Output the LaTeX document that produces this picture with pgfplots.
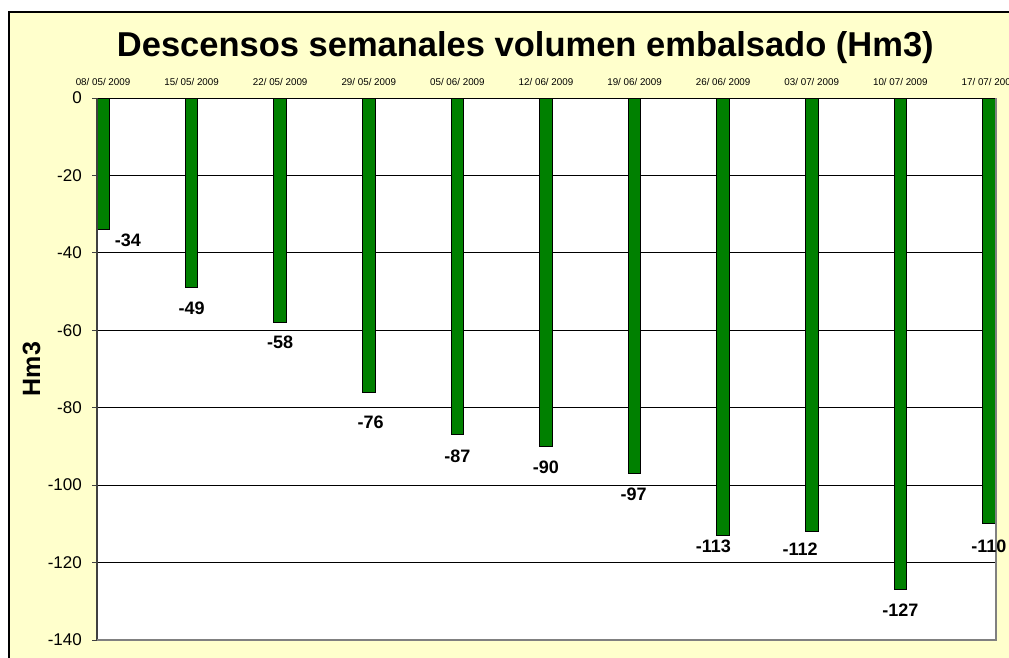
\documentclass[border=0pt]{standalone}
\usepackage{fontspec}
\setmainfont{Liberation Sans}
\usepackage{pgfplots}
\usepackage{pgfplotstable}
\pgfplotsset{compat=1.18}
\definecolor{bgyellow}{RGB}{255,255,204}
\definecolor{bargreen}{RGB}{0,128,0}
\pgfplotstableread{
x y
0 -34
1 -49
2 -58
3 -76
4 -87
5 -90
6 -97
7 -113
8 -112
9 -127
10 -110
}\bars
\pgfplotstableread{
lx ly lab
0.28 -36.7 -34
1.00 -54.3 -49
2.00 -63.0 -58
3.02 -83.7 -76
4.00 -92.5 -87
5.00 -95.5 -90
5.99 -102.3 -97
6.89 -115.8 -113
7.87 -116.5 -112
9.00 -132.3 -127
10.00 -115.8 -110
}\labels
\begin{document}
\begin{tikzpicture}[x=1pt,y=1pt]
\useasboundingbox (0,0) rectangle (1009,657);
\begin{scope}
\clip (0,0) rectangle (1009,657);
\fill[bgyellow] (9,-10) rectangle (1020,645);
\draw[black,line width=1.5pt] (9,-10) -- (9,645) -- (1020,645);
\end{scope}
\begin{axis}[
  scale only axis,
  width=899pt, height=542pt,
  anchor=south west, at={(97pt,17pt)},
  xmin=-0.068, xmax=10.08,
  ymin=-140, ymax=0,
  xtick={0,1,...,10},
  xticklabels={08/ 05/ 2009,15/ 05/ 2009,22/ 05/ 2009,29/ 05/ 2009,05/ 06/ 2009,12/ 06/ 2009,19/ 06/ 2009,26/ 06/ 2009,03/ 07/ 2009,10/ 07/ 2009,17/ 07/ 2009},
  xticklabel pos=upper,
  x tick style={draw=none},
  xticklabel style={font=\fontsize{9.8}{11}\selectfont, inner sep=0pt, anchor=base, yshift=7pt},
  ytick={-140,-120,...,0},
  ytick pos=left,
  tick align=outside,
  major tick length=5pt,
  y tick style={black!75, line width=1pt},
  yticklabel style={font=\fontsize{17}{19}\selectfont, inner sep=0pt, xshift=-10pt},
  /pgf/number format/assume math mode=true,
  ymajorgrids,
  grid style={black, line width=0.9pt},
  axis line style={draw=none},
  axis background/.style={fill=white},
  ylabel={\bfseries Hm3},
  ylabel style={font=\fontsize{25}{28}\selectfont, at={(axis description cs:-0.0729,0.5)}, rotate=0, anchor=center},
  title={\bfseries Descensos semanales volumen embalsado (Hm3)},
  title style={font=\fontsize{34.5}{38}\selectfont, at={(axis description cs:0.4765,1.0664)}, anchor=base, inner sep=0pt},
  clip=false,
]
\addplot[ybar, bar width=12.6pt, bar shift=0pt, fill=bargreen, draw=black, line width=1pt] table[x=x,y=y] {\bars};
\addplot[draw=none, mark=none, nodes near coords, point meta=explicit symbolic,
  nodes near coords align=center,
  every node near coord/.append style={font=\bfseries\fontsize{18}{20}\selectfont, anchor=center, inner sep=0pt}]
  table[x=lx,y=ly,meta=lab] {\labels};
\draw[black!75, line width=1.5pt] (rel axis cs:0,0) -- (rel axis cs:0,1);
\draw[black!50, line width=1.2pt] (rel axis cs:0,0) -- (rel axis cs:1,0) -- (rel axis cs:1,1);
\end{axis}
\end{tikzpicture}
\end{document}
